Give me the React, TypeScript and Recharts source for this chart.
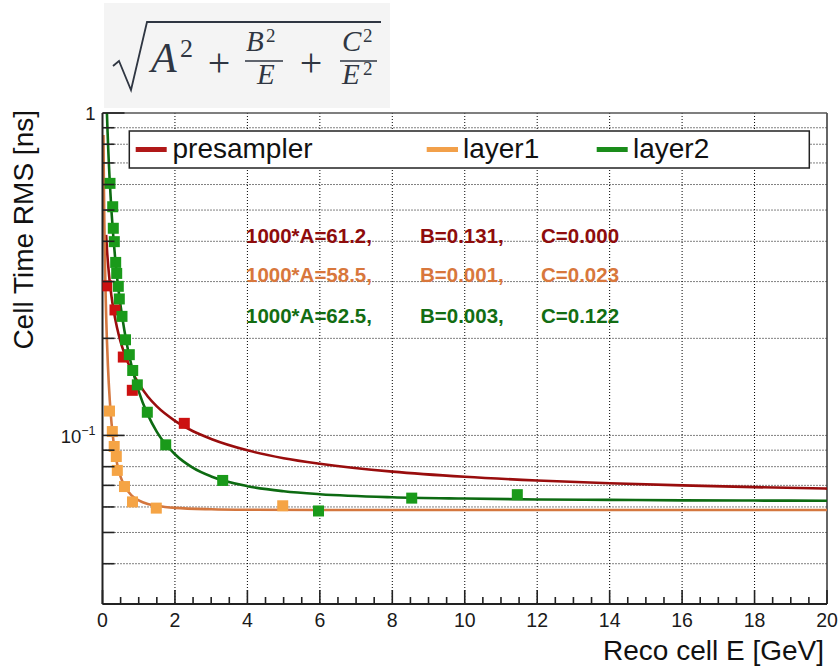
import React from 'react';
import { ComposedChart, Line, Scatter, XAxis, YAxis, CartesianGrid, ReferenceLine } from 'recharts';

// fitted curves
const preFitE = [0.1, 0.13, 0.16, 0.2, 0.25, 0.3, 0.4, 0.5, 0.6, 0.8, 1, 1.25, 1.5, 2, 2.5, 3, 4, 5, 6, 8, 10, 12, 14, 16, 18, 20];
const preFitV = [0.419, 0.368, 0.333, 0.299, 0.269, 0.247, 0.216, 0.195, 0.18, 0.159, 0.145, 0.132, 0.123, 0.111, 0.103, 0.0975, 0.0899, 0.085, 0.0817, 0.0772, 0.0744, 0.0725, 0.0711, 0.07, 0.0691, 0.0684];

const l1FitE = [0.027, 0.03, 0.035, 0.04, 0.05, 0.06, 0.07, 0.08, 0.1, 0.12, 0.15, 0.2, 0.25, 0.3, 0.4, 0.5, 0.6, 0.8, 1, 1.25, 1.5, 2, 3, 4, 6, 10, 15, 20];
const l1FitV = [0.854, 0.769, 0.66, 0.578, 0.464, 0.388, 0.334, 0.293, 0.237, 0.2, 0.164, 0.129, 0.109, 0.0965, 0.082, 0.0744, 0.07, 0.0652, 0.0629, 0.0613, 0.0605, 0.0596, 0.059, 0.0588, 0.0587, 0.0587, 0.0587, 0.0587];

const l2FitE = [0.122, 0.14, 0.16, 0.18, 0.2, 0.25, 0.3, 0.35, 0.4, 0.5, 0.6, 0.7, 0.8, 1, 1.25, 1.5, 2, 2.5, 3, 4, 5, 6, 8, 10, 12, 14, 16, 18, 20];
const l2FitV = [1.0, 0.874, 0.765, 0.681, 0.613, 0.492, 0.4115, 0.354, 0.311, 0.252, 0.213, 0.185, 0.165, 0.137, 0.116, 0.1026, 0.0874, 0.0793, 0.0746, 0.0696, 0.0671, 0.0657, 0.0643, 0.0637, 0.0633, 0.0631, 0.0629, 0.0628, 0.0627];

// measured points
const preE = [0.116, 0.345, 0.574, 0.823, 2.258];
const preV = [0.291, 0.245, 0.175, 0.138, 0.109];

const l1E = [0.193, 0.271, 0.323, 0.381, 0.409, 0.607, 0.828, 1.485, 4.975];
const l1V = [0.119, 0.1028, 0.0924, 0.086, 0.0779, 0.0694, 0.0622, 0.0595, 0.0605];

const l2E = [0.207, 0.282, 0.298, 0.326, 0.364, 0.392, 0.436, 0.464, 0.538, 0.635, 0.74, 0.834, 0.961, 1.237, 1.745, 3.318, 5.963, 8.536, 11.451];
const l2V = [0.605, 0.512, 0.439, 0.399, 0.344, 0.318, 0.29, 0.265, 0.234, 0.198, 0.178, 0.159, 0.1435, 0.118, 0.0935, 0.0725, 0.0583, 0.0639, 0.0655];

const seriesNames = ['presampler', 'layer1', 'layer2'];
const fitParams = [
  ['1000*A=61.2,', 'B=0.131,', 'C=0.000'],
  ['1000*A=58.5,', 'B=0.001,', 'C=0.023'],
  ['1000*A=62.5,', 'B=0.003,', 'C=0.122'],
];

const xMajor = [0, 2, 4, 6, 8, 10, 12, 14, 16, 18, 20];
const xTicks = Array.from({ length: 41 }, (_, i) => i * 0.5);
const yTicks = [0.03, 0.04, 0.05, 0.06, 0.07, 0.08, 0.09, 0.1, 0.2, 0.3, 0.4, 0.5, 0.6, 0.7, 0.8, 0.9, 1];
const yGrid = [0.04, 0.05, 0.06, 0.07, 0.08, 0.09, 0.1, 0.2, 0.3, 0.4, 0.5, 0.6, 0.7, 0.8, 0.9];

const zip = (es: number[], vs: number[]) => es.map((e, i) => ({ e, v: vs[i] }));

const series = [
  { fit: zip(preFitE, preFitV), pts: zip(preE, preV), line: '#990d0d', mark: '#cc1111', text: '#8e0c0c', legend: '#b01818' },
  { fit: zip(l1FitE, l1FitV), pts: zip(l1E, l1V), line: '#d4773f', mark: '#f5a445', text: '#d8773c', legend: '#f2a04a' },
  { fit: zip(l2FitE, l2FitV), pts: zip(l2E, l2V), line: '#0d6b12', mark: '#1a9a1a', text: '#136d13', legend: '#1a8c1a' },
];

const SANS = '"Liberation Sans", Arial, Helvetica, sans-serif';
const SERIF = '"Liberation Serif", "DejaVu Serif", serif';
const legendPos = [
  { x1: 135.7, x2: 166.7, tx: 172.5 },
  { x1: 426.7, x2: 458, tx: 463 },
  { x1: 596.7, x2: 627.7, tx: 633 },
];
const labelX = [246, 420, 541];
const labelY = [243, 282, 323];

const XTick = (props: any) => {
  const { x, y, payload } = props;
  const major = xMajor.includes(payload.value);
  return (
    <g>
      <line x1={x} x2={x} y1={y} y2={y - (major ? 14 : 7)} stroke="#222" strokeWidth={1.6} />
      {major && (
        <text x={x} y={y + 23} textAnchor="middle" fontSize={19.5} fontFamily={SANS} fill="#1a1a1a">
          {payload.value}
        </text>
      )}
    </g>
  );
};

const YTick = (props: any) => {
  const { x, y, payload } = props;
  const v = payload.value;
  const lg = Math.log10(v);
  const major = Math.abs(lg - Math.round(lg)) < 1e-6;
  return (
    <g>
      <line x1={x} x2={x + (major ? 22 : 12)} y1={y} y2={y} stroke="#222" strokeWidth={1.6} />
      {major && v === 1 && (
        <text x={x - 7} y={y + 7} textAnchor="end" fontSize={18.5} fontFamily={SANS} fill="#1a1a1a">1</text>
      )}
      {major && v !== 1 && (
        <text x={x - 7} y={y + 8} textAnchor="end" fontSize={18.5} fontFamily={SANS} fill="#1a1a1a">
          10<tspan fontSize={12.5} dy={-8}>{'\u2212' + Math.round(-lg)}</tspan>
        </text>
      )}
    </g>
  );
};

const square = (color: string) => (props: any) => (
  <rect x={props.cx - 5.5} y={props.cy - 5.5} width={11} height={11} fill={color} />
);

const Formula = () => (
  <g fill="#2f3642" stroke="none">
    <rect x={104} y={3} width={286} height={105} fill="#f4f4f4" />
    <path d="M113,66 L119,61 L131,90 L147,22 L381,22" fill="none" stroke="#2f3642" strokeWidth={1.8} />
    <text x={151} y={72} fontSize={42} fontStyle="italic" fontFamily={SERIF}>A</text>
    <text x={180} y={57} fontSize={26} fontFamily={SERIF}>2</text>
    <text x={219} y={76} fontSize={40} textAnchor="middle" fontFamily={SERIF}>+</text>
    <text x={246} y={51} fontSize={29} fontStyle="italic" fontFamily={SERIF}>B</text>
    <text x={266} y={42} fontSize={19} fontFamily={SERIF}>2</text>
    <line x1={245} x2={283} y1={61} y2={61} stroke="#2f3642" strokeWidth={1.5} />
    <text x={257} y={84} fontSize={29} fontStyle="italic" fontFamily={SERIF}>E</text>
    <text x={311} y={76} fontSize={40} textAnchor="middle" fontFamily={SERIF}>+</text>
    <text x={342} y={51} fontSize={29} fontStyle="italic" fontFamily={SERIF}>C</text>
    <text x={363} y={42} fontSize={19} fontFamily={SERIF}>2</text>
    <line x1={340} x2={377} y1={61} y2={61} stroke="#2f3642" strokeWidth={1.5} />
    <text x={342} y={84} fontSize={29} fontStyle="italic" fontFamily={SERIF}>E</text>
    <text x={363} y={75} fontSize={19} fontFamily={SERIF}>2</text>
  </g>
);

export default function App() {
  return (
    <div style={{ position: 'absolute', left: 0, top: 0, width: 840, height: 668, background: '#fff' }}>
      <div style={{ position: 'absolute', left: 0, top: 0 }}>
        <ComposedChart width={840} height={668} margin={{ top: 113, right: 13, bottom: 34, left: 42.5 }}>
          <CartesianGrid
            stroke="#000"
            strokeDasharray="1 2"
            verticalValues={xMajor.slice(1, -1)}
            horizontalValues={yGrid}
          />
          <XAxis
            type="number"
            dataKey="e"
            domain={[0, 20]}
            ticks={xTicks}
            interval={0}
            height={30}
            tickSize={0}
            tickMargin={0}
            tickLine={false}
            tick={<XTick />}
            axisLine={{ stroke: '#222', strokeWidth: 2 }}
            allowDataOverflow
          />
          <YAxis
            type="number"
            scale="log"
            domain={[0.03, 1]}
            ticks={yTicks}
            interval={0}
            width={60}
            tickSize={0}
            tickMargin={0}
            tickLine={false}
            tick={<YTick />}
            axisLine={{ stroke: '#222', strokeWidth: 2 }}
            allowDataOverflow
          />
          <ReferenceLine x={20} stroke="#333" strokeWidth={1.5} ifOverflow="visible" />
          <ReferenceLine y={1} stroke="#555" strokeWidth={1.5} ifOverflow="visible" />
          {series.map((s, i) => [
            <Line
              key={'l' + i}
              data={s.fit}
              dataKey="v"
              type="monotone"
              stroke={s.line}
              strokeWidth={2.6}
              dot={false}
              isAnimationActive={false}
            />,
            <Scatter
              key={'s' + i}
              data={s.pts}
              dataKey="v"
              fill={s.mark}
              shape={square(s.mark)}
              isAnimationActive={false}
            />,
          ])}
        </ComposedChart>
      </div>
      <svg width={840} height={668} style={{ position: 'absolute', left: 0, top: 0, pointerEvents: 'none' }}>
        <Formula />
        <rect x={129.3} y={131} width={680} height={37} fill="#fff" stroke="#222" strokeWidth={1.5} />
        {seriesNames.map((n, i) => (
          <g key={n}>
            <line x1={legendPos[i].x1} x2={legendPos[i].x2} y1={149.5} y2={149.5} stroke={series[i].legend} strokeWidth={5} />
            <text x={legendPos[i].tx} y={157.5} fontSize={28} fontFamily={SANS} fill="#111">{n}</text>
          </g>
        ))}
        {fitParams.map((row, r) =>
          row.map((t, c) => (
            <text key={r + '-' + c} x={labelX[c]} y={labelY[r]} fontSize={20.5} fontWeight="bold" fontFamily={SANS} fill={series[r].text}>
              {t}
            </text>
          ))
        )}
        <text x={824} y={660} textAnchor="end" fontSize={28} fontFamily={SANS} fill="#111">Reco cell E [GeV]</text>
        <text x={33} y={110} transform="rotate(-90 33 110)" textAnchor="end" fontSize={28} fontFamily={SANS} fill="#111">
          Cell Time RMS [ns]
        </text>
      </svg>
    </div>
  );
}
